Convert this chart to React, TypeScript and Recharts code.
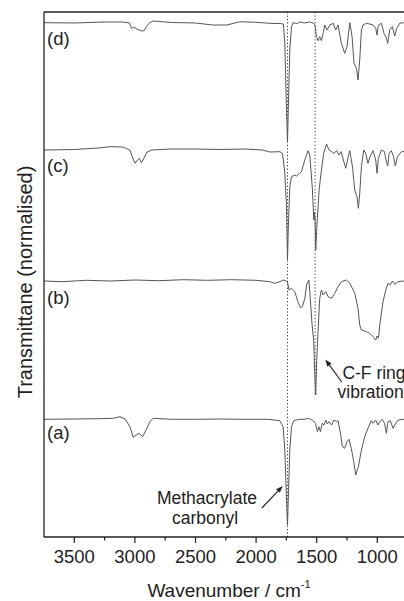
import React from 'react';
import { LineChart, Line, XAxis, YAxis, ReferenceLine, Customized } from 'recharts';

// Wavenumber axis ticks (cm^-1): majors every 500, minors every 250
const WAVENUMBER_TICKS = [3500, 3250, 3000, 2750, 2500, 2250, 2000, 1750, 1500, 1250, 1000];
const SPECTRUM_LABELS = ['(a)', '(b)', '(c)', '(d)'];
// vertical offsets of the stacked spectra (a, b, c, d)
const OFFSETS = [0, 1.3, 2.65, 3.85];
const CARBONYL_LINE = 1741;
const CF_RING_LINE = 1513;

// [wavenumber, normalised transmittance]
const TRACE_A: [number, number][] = [
  [3750, 1.177], [3500, 1.18], [3300, 1.183], [3179, 1.187], [3123, 1.203], [3080, 1.18],
  [3041, 1.103], [3014, 0.997], [2990, 1.02], [2964, 1.037], [2936, 1.003], [2900, 1.09],
  [2876, 1.153], [2849, 1.187], [2700, 1.177], [2500, 1.177], [2300, 1.18], [2100, 1.177],
  [1900, 1.177], [1804, 1.163], [1777, 1.103], [1763, 0.87], [1749, 0.37], [1741, 0.12],
  [1733, 0.44], [1722, 0.87], [1708, 1.103], [1689, 1.163], [1650, 1.177], [1600, 1.177],
  [1565, 1.187], [1530, 1.163], [1510, 1.137], [1494, 1.053], [1482, 1.103], [1469, 1.053],
  [1455, 1.137], [1440, 1.12], [1425, 1.17], [1412, 1.13], [1400, 1.153], [1376, 1.12],
  [1359, 1.17], [1335, 1.153], [1324, 1.163], [1304, 1.037], [1288, 0.903], [1269, 0.887],
  [1250, 0.953], [1233, 0.977], [1215, 0.887], [1194, 0.753], [1178, 0.62], [1170, 0.653],
  [1156, 0.703], [1131, 0.87], [1104, 1.003], [1077, 1.087], [1049, 1.163], [1035, 1.137],
  [1013, 1.17], [995, 1.12], [980, 1.153], [960, 1.177], [940, 1.137], [925, 1.037],
  [912, 1.153], [893, 1.163], [870, 1.087], [856, 1.12], [829, 1.17], [788, 1.177], [750, 1.177],
];

const TRACE_B: [number, number][] = [
  [3750, 1.26], [3600, 1.253], [3400, 1.267], [3200, 1.26], [3000, 1.27], [2800, 1.263],
  [2600, 1.273], [2400, 1.267], [2200, 1.273], [2000, 1.267], [1887, 1.253], [1846, 1.237],
  [1804, 1.253], [1777, 1.27], [1749, 1.26], [1741, 1.25], [1728, 1.17], [1708, 1.187],
  [1681, 1.153], [1655, 1.053], [1634, 0.993], [1618, 1.003], [1598, 1.087], [1584, 1.22],
  [1565, 1.27], [1557, 1.153], [1538, 0.82], [1524, 0.653], [1518, 0.39], [1508, 0.12],
  [1500, 0.47], [1489, 0.753], [1475, 1.087], [1461, 1.17], [1447, 1.12], [1425, 1.153],
  [1406, 1.103], [1378, 1.087], [1351, 1.137], [1324, 1.203], [1296, 1.253], [1255, 1.27],
  [1227, 1.237], [1186, 1.137], [1159, 0.987], [1145, 0.82], [1131, 0.77], [1090, 0.753],
  [1063, 0.737], [1035, 0.703], [1013, 0.67], [1002, 0.71], [990, 0.69], [980, 0.82],
  [953, 1.053], [930, 1.17], [912, 1.237], [895, 1.22], [875, 1.26], [856, 1.227],
  [829, 1.253], [788, 1.26], [750, 1.26],
];

const TRACE_C: [number, number][] = [
  [3750, 1.22], [3500, 1.225], [3300, 1.24], [3206, 1.253], [3100, 1.25], [3041, 1.22],
  [3027, 1.17], [3000, 1.087], [2978, 1.12], [2964, 1.137], [2945, 1.093], [2925, 1.14],
  [2900, 1.2], [2862, 1.22], [2700, 1.23], [2500, 1.23], [2300, 1.225], [2100, 1.23],
  [1950, 1.22], [1887, 1.2], [1804, 1.203], [1782, 1.187], [1763, 0.987], [1749, 0.653],
  [1741, 0.12], [1733, 0.49], [1722, 0.853], [1708, 0.953], [1680, 0.97], [1667, 0.96],
  [1640, 0.987], [1626, 1.003], [1598, 1.12], [1571, 1.213], [1557, 1.17], [1535, 0.82],
  [1524, 0.52], [1518, 0.6], [1513, 0.52], [1508, 0.22], [1497, 0.49], [1480, 0.82],
  [1461, 1.02], [1442, 1.187], [1419, 1.28], [1398, 1.22], [1376, 1.203], [1359, 1.187],
  [1335, 1.213], [1316, 1.17], [1298, 1.203], [1280, 1.12], [1260, 1.037], [1240, 1.153],
  [1227, 1.213], [1205, 1.053], [1186, 0.82], [1167, 0.753], [1156, 0.637], [1145, 0.787],
  [1131, 1.053], [1112, 1.22], [1096, 1.187], [1077, 1.087], [1060, 1.153], [1035, 1.213],
  [1013, 1.12], [1002, 0.987], [991, 1.137], [966, 1.22], [941, 1.203], [928, 1.12],
  [914, 1.06], [903, 1.187], [884, 1.213], [866, 1.153], [851, 1.06], [834, 1.153],
  [801, 1.203], [750, 1.203],
];

const TRACE_D: [number, number][] = [
  [3750, 1.293], [3500, 1.29], [3250, 1.3], [3100, 1.3], [3045, 1.29], [3027, 1.235],
  [3010, 1.25], [2985, 1.23], [2945, 1.21], [2925, 1.213], [2905, 1.253], [2880, 1.29],
  [2850, 1.31], [2700, 1.295], [2500, 1.29], [2357, 1.27], [2241, 1.27], [2134, 1.303],
  [2000, 1.297], [1887, 1.287], [1800, 1.285], [1775, 1.28], [1763, 1.09], [1753, 0.59],
  [1741, 0.103], [1731, 0.59], [1722, 1.02], [1708, 1.253], [1695, 1.293], [1660, 1.285],
  [1640, 1.3], [1600, 1.29], [1560, 1.3], [1530, 1.29], [1513, 1.27], [1502, 1.153],
  [1489, 1.113], [1475, 1.153], [1461, 1.113], [1447, 1.187], [1433, 1.27], [1414, 1.22],
  [1392, 1.27], [1364, 1.287], [1343, 1.22], [1324, 1.27], [1296, 1.087], [1269, 0.987],
  [1250, 1.053], [1227, 1.293], [1208, 1.153], [1192, 0.887], [1172, 0.837], [1159, 0.72],
  [1145, 0.92], [1131, 1.22], [1118, 1.27], [1090, 1.287], [1063, 1.28], [1035, 1.27],
  [1013, 1.237], [1002, 1.17], [991, 1.27], [966, 1.287], [945, 1.187], [925, 1.14],
  [914, 1.087], [898, 1.22], [876, 1.253], [856, 1.16], [840, 1.237], [815, 1.287],
  [782, 1.293], [750, 1.29],
];

const TRACES = [TRACE_A, TRACE_B, TRACE_C, TRACE_D];

const FONT = '"Liberation Sans", Arial, Helvetica, sans-serif';
const INK = '#222';
const TRACE_COLOR = '#555';

const series = TRACES.map((trace, i) =>
  trace.map(([w, t]) => ({ w, y: +(t + OFFSETS[i]).toFixed(3) }))
);

const Y_MAX = 5.25;

const XTick = (props: any) => {
  const { x, y, payload } = props;
  const major = payload.value % 500 === 0;
  return (
    <g>
      <line x1={x} x2={x} y1={y} y2={y + (major ? 6 : 3.5)} stroke={INK} strokeWidth={1.2} />
      {major && (
        <text x={x} y={y + 26} textAnchor="middle" fontSize={18.5} fill={INK} fontFamily={FONT}>
          {payload.value}
        </text>
      )}
    </g>
  );
};

const Arrow = (props: any) => {
  const { x1, y1, x2, y2 } = props;
  const dx = x2 - x1;
  const dy = y2 - y1;
  const len = Math.sqrt(dx * dx + dy * dy) || 1;
  const ux = dx / len;
  const uy = dy / len;
  const hl = 7;
  const hw = 2.6;
  const bx = x2 - ux * hl;
  const by = y2 - uy * hl;
  return (
    <g>
      <line x1={x1} y1={y1} x2={bx} y2={by} stroke={INK} strokeWidth={1.1} />
      <polygon
        points={`${x2},${y2} ${bx - uy * hw},${by + ux * hw} ${bx + uy * hw},${by - ux * hw}`}
        fill={INK}
      />
    </g>
  );
};

const Annotations = () => (
  <g fontFamily={FONT} fill={INK}>
    <text x={47} y={45} fontSize={18.5}>{SPECTRUM_LABELS[3]}</text>
    <text x={47} y={172} fontSize={18.5}>{SPECTRUM_LABELS[2]}</text>
    <text x={47} y={304} fontSize={18.5}>{SPECTRUM_LABELS[1]}</text>
    <text x={47} y={439} fontSize={18.5}>{SPECTRUM_LABELS[0]}</text>
    <text x={374} y={379} fontSize={17.5} textAnchor="middle">C-F ring</text>
    <text x={375} y={398} fontSize={17.5} textAnchor="middle">vibrations</text>
    <text x={207} y={504} fontSize={17.5} textAnchor="middle">Methacrylate</text>
    <text x={205} y={523.5} fontSize={17.5} textAnchor="middle">carbonyl</text>
    <text
      x={32}
      y={282}
      fontSize={20}
      textAnchor="middle"
      transform="rotate(-90, 32, 282)"
    >
      Transmittane (normalised)
    </text>
    <text x={229} y={597} fontSize={19} textAnchor="middle">
      Wavenumber / cm<tspan dy={-9} fontSize={11}>-1</tspan>
    </text>
  </g>
);

export default function App() {
  return (
    <div style={{ position: 'absolute', left: 0, top: 0, width: 404, height: 601, overflow: 'hidden', background: '#fff' }}>
      <LineChart
        width={420}
        height={601}
        margin={{ top: 12, right: 12.4, left: 0, bottom: 0 }}
        style={{ fontFamily: FONT }}
      >
        <XAxis
          dataKey="w"
          type="number"
          domain={[750, 3750]}
          reversed
          allowDataOverflow
          ticks={WAVENUMBER_TICKS}
          interval={0}
          tick={<XTick />}
          tickLine={false}
          tickSize={0}
          tickMargin={0}
          height={64}
          axisLine={{ stroke: INK, strokeWidth: 1.3 }}
        />
        <YAxis
          type="number"
          domain={[0, Y_MAX]}
          allowDataOverflow
          width={44}
          tick={false}
          tickLine={false}
          axisLine={{ stroke: INK, strokeWidth: 1.3 }}
        />
        <ReferenceLine y={Y_MAX} stroke={INK} strokeWidth={1.3} />
        <ReferenceLine x={CARBONYL_LINE} stroke="#333" strokeWidth={1} strokeDasharray="1.2 2.2" />
        <ReferenceLine
          segment={[{ x: CF_RING_LINE, y: Y_MAX }, { x: CF_RING_LINE, y: 1.42 }]}
          stroke="#333"
          strokeWidth={1}
          strokeDasharray="1.2 2.2"
        />
        {series.map((data, i) => (
          <Line
            key={i}
            data={data}
            dataKey="y"
            type="linear"
            stroke={TRACE_COLOR}
            strokeWidth={1}
            dot={false}
            isAnimationActive={false}
          />
        ))}
        <ReferenceLine
          segment={[{ x: 1293, y: 1.55 }, { x: 1429, y: 1.775 }]}
          shape={<Arrow />}
        />
        <ReferenceLine
          segment={[{ x: 1953, y: 0.29 }, { x: 1780, y: 0.51 }]}
          shape={<Arrow />}
        />
        <Customized component={Annotations} />
      </LineChart>
    </div>
  );
}
